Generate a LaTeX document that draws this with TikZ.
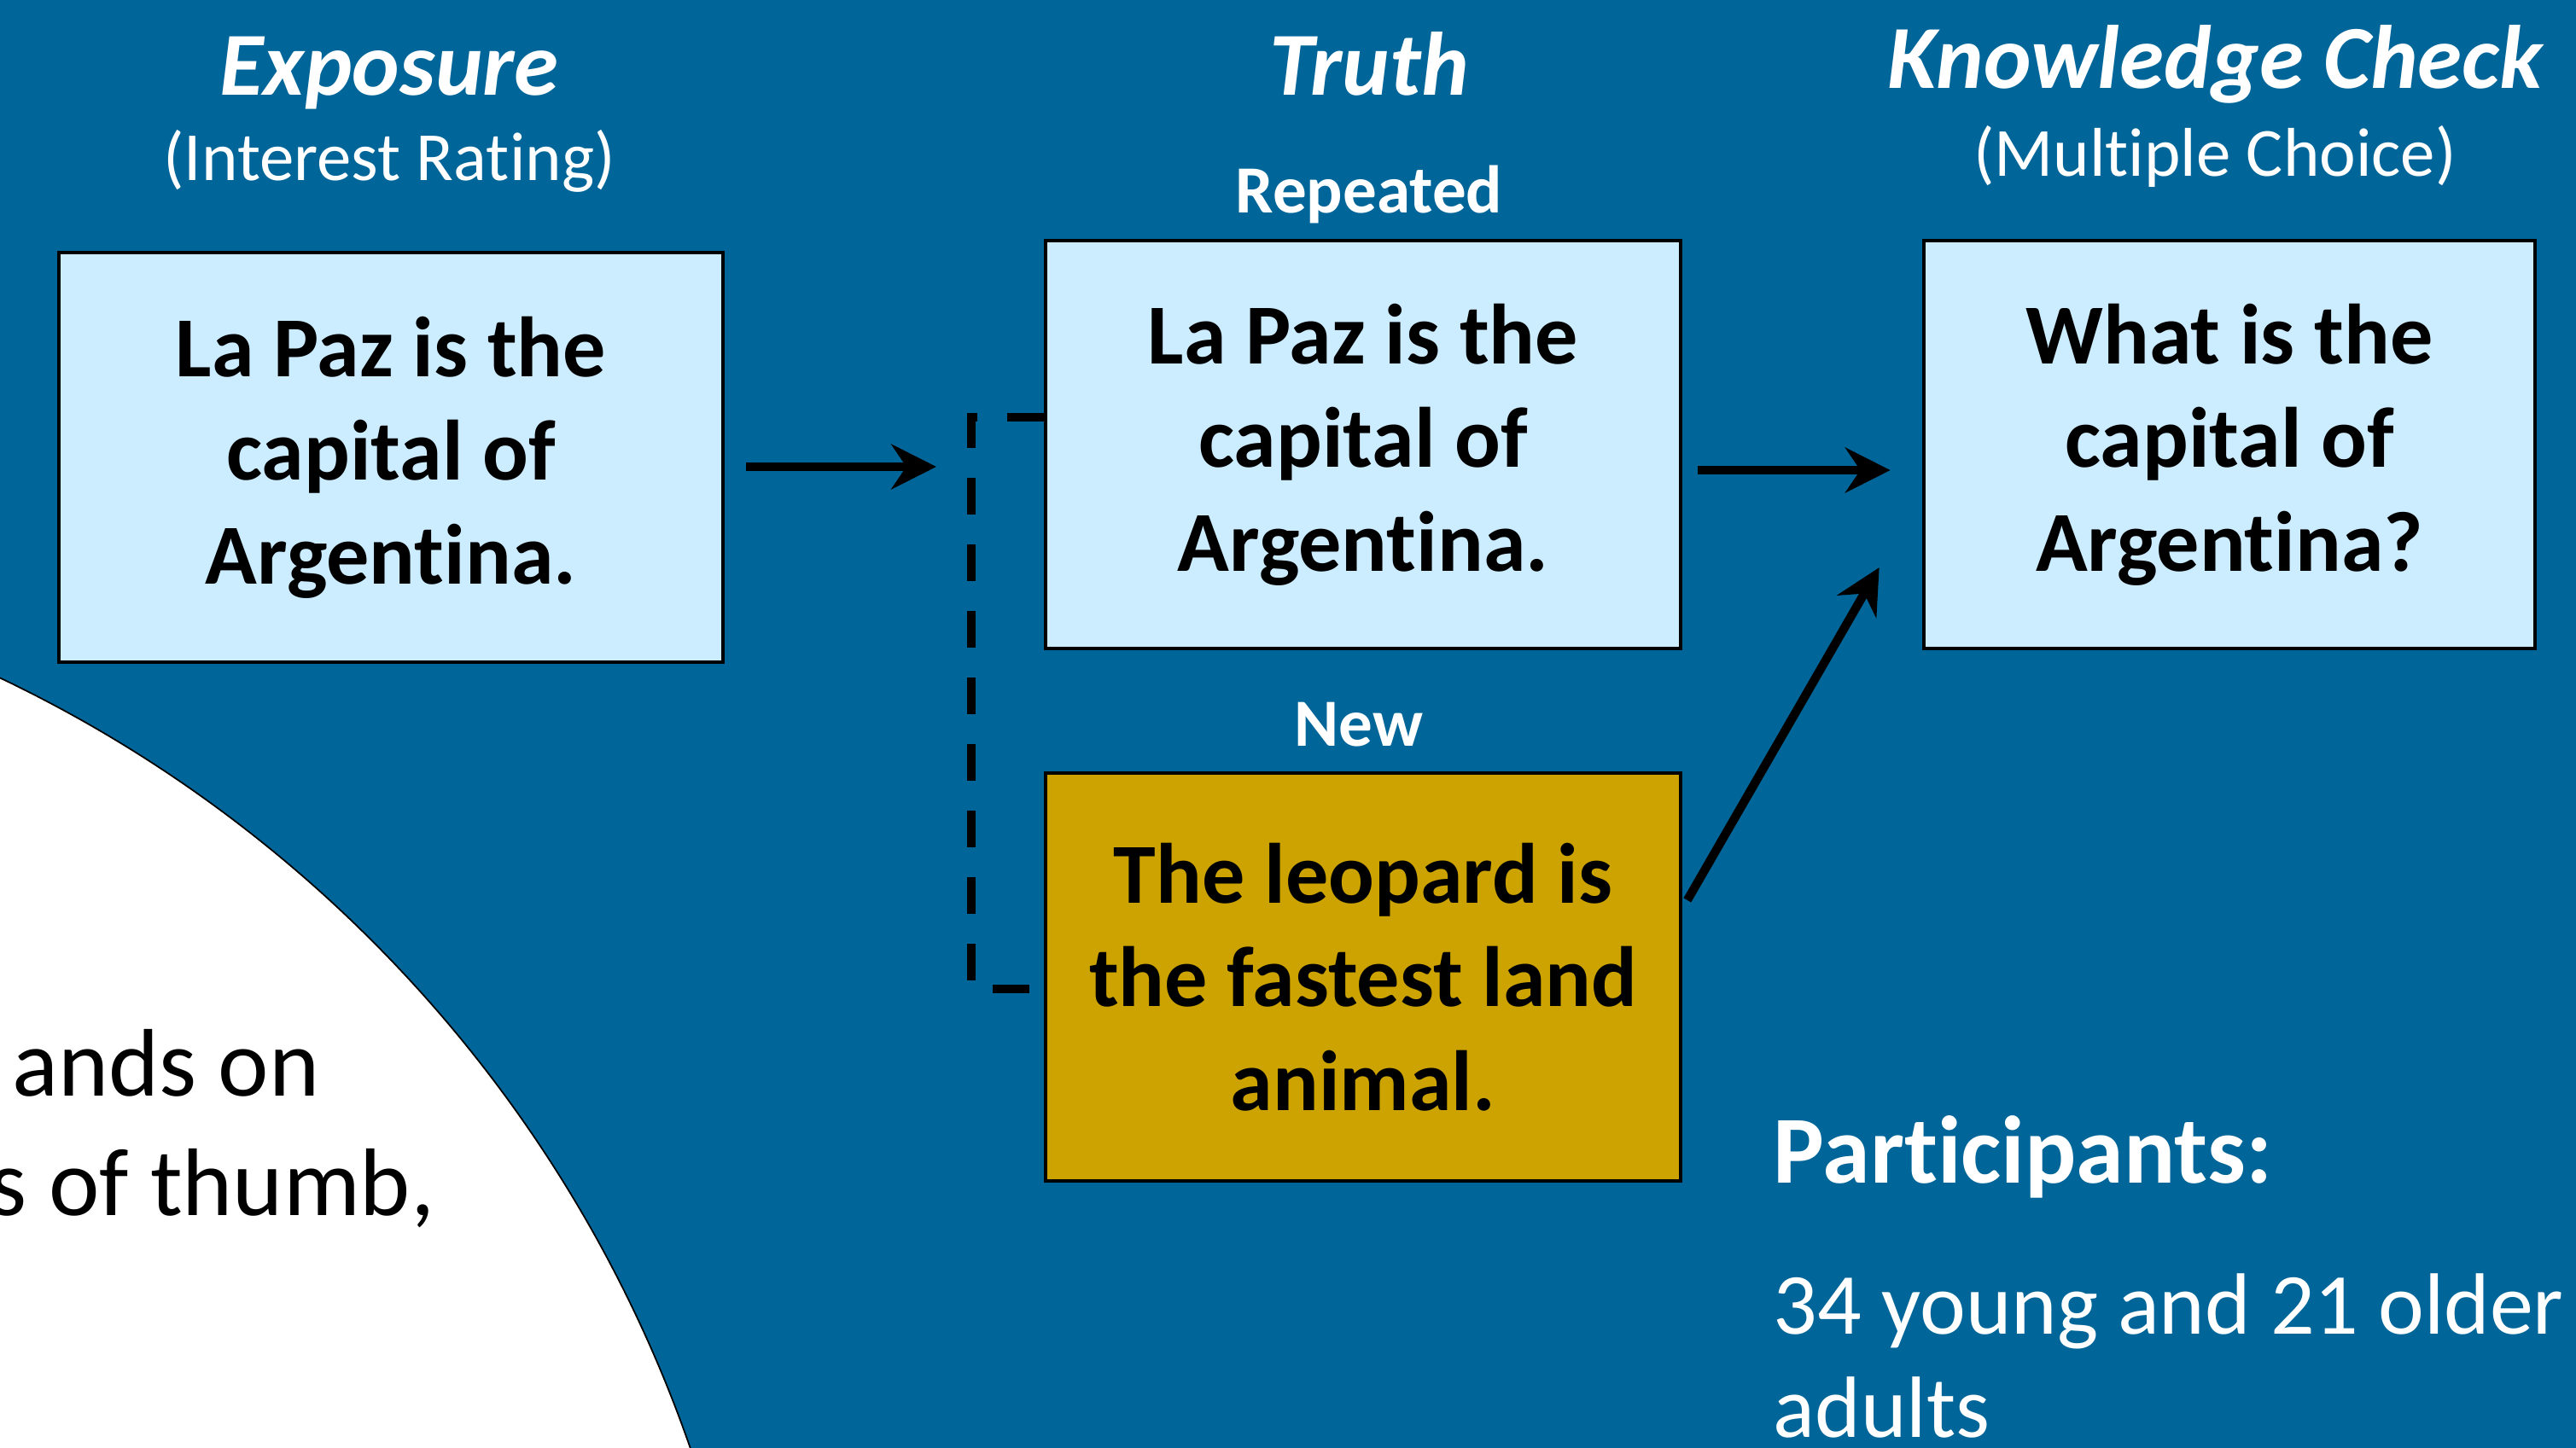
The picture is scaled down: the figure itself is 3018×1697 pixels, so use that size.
\documentclass[tikz,border=0pt]{standalone}
\usepackage{fontspec}
\setmainfont{Carlito}[Ligatures=NoCommon]
\usetikzlibrary{arrows.meta}
\definecolor{slideblue}{RGB}{0,102,153}
\definecolor{factblue}{RGB}{204,236,255}
\definecolor{newgold}{RGB}{204,163,0}

\begin{document}
\begin{tikzpicture}[x=0.01cm,y=-0.01cm,
  fact/.style={draw, line width=1.2pt, align=center, inner sep=0pt,
    font=\fontsize{28.5}{34.5}\selectfont\bfseries},
  phase/.style={text=white, inner sep=0pt, font=\fontsize{30}{36}\selectfont\bfseries\itshape},
  task/.style={text=white, inner sep=0pt, font=\fontsize{23}{28}\selectfont},
  kind/.style={text=white, inner sep=0pt, font=\fontsize{22.5}{27}\selectfont\bfseries},
  conn/.style={-{Stealth[length=15pt,width=15pt,inset=5pt]}, line width=2.9pt},
  bracket/.style={line width=3pt, dash pattern=on 0.43cm off 0.35cm}]
\useasboundingbox (0,0) rectangle (3018,1697);
\fill[slideblue] (0,0) rectangle (3018,1697);
\begin{scope}
\clip (0,0) rectangle (3018,1697);
\fill[white, draw=black, line width=0.5pt] (-673,2211) circle (15.67cm);
\end{scope}
\node[inner sep=0pt, anchor=base east, font=\fontsize{32}{39}\selectfont] (rule1) at (375,1284) {ands on};
\node[inner sep=0pt, anchor=base east, font=\fontsize{32}{39}\selectfont] (rule2) at (510,1424) {s of thumb,};

% phase headings
\node[phase, anchor=base] (tExpo) at (456,112) {Exposure};
\node[task, anchor=base] (sExpo) at (456,212) {(Interest Rating)};
\node[phase, anchor=base] (tTruth) at (1604,112) {Truth};
\node[kind, anchor=base] (lRep) at (1604,250) {Repeated};
\node[kind, anchor=base] (lNew) at (1592,874) {New};
\node[phase, anchor=base] (tCheck) at (2595,104) {Knowledge Check};
\node[task, anchor=base] (sCheck) at (2595,206) {(Multiple Choice)};

% statements
\node[fact, fill=factblue, minimum width=7.78cm, minimum height=4.80cm] (expo) at (458,536) {La Paz is the\\capital of\\Argentina.};
\node[fact, fill=factblue, minimum width=7.43cm, minimum height=4.77cm] (rep) at (1597,521) {La Paz is the\\capital of\\Argentina.};
\node[fact, fill=newgold, minimum width=7.43cm, minimum height=4.77cm] (new) at (1597,1145) {The leopard is\\the fastest land\\animal.};
\node[fact, fill=factblue, minimum width=7.16cm, minimum height=4.77cm] (check) at (2612,521) {What is the\\capital of\\Argentina?};

\node[text=white, inner sep=0pt, anchor=base west, font=\fontsize{32}{38}\selectfont\bfseries] (part) at (2077,1386) {Participants:};
\node[text=white, inner sep=0pt, anchor=base west, font=\fontsize{29}{34.5}\selectfont] (sample) at (2077,1563) {34 young and 21 older};
\node[text=white, inner sep=0pt, anchor=base west, font=\fontsize{29}{34.5}\selectfont] (sample2) at (2077,1684) {adults};

\coordinate (brtop) at (1138,489);
\coordinate (brbot) at (1138,1159);
\coordinate (brmid) at (1138,547);

\draw[conn, shorten <=0.25cm, shorten >=0.41cm] (expo.east |- brmid) -- (brmid);
\draw[bracket] (rep.west |- brtop) -- (brtop) -- (brbot) -- (new.west |- brbot);
\draw[conn, shorten <=0.18cm, shorten >=0.37cm] ([yshift=-0.3cm]rep.east) -- ([yshift=-0.3cm]check.west);
\draw[conn] ([xshift=0.06cm, yshift=0.9cm]new.east) -- ([xshift=-0.5cm, yshift=-1.44cm]check.west);
\end{tikzpicture}
\end{document}
